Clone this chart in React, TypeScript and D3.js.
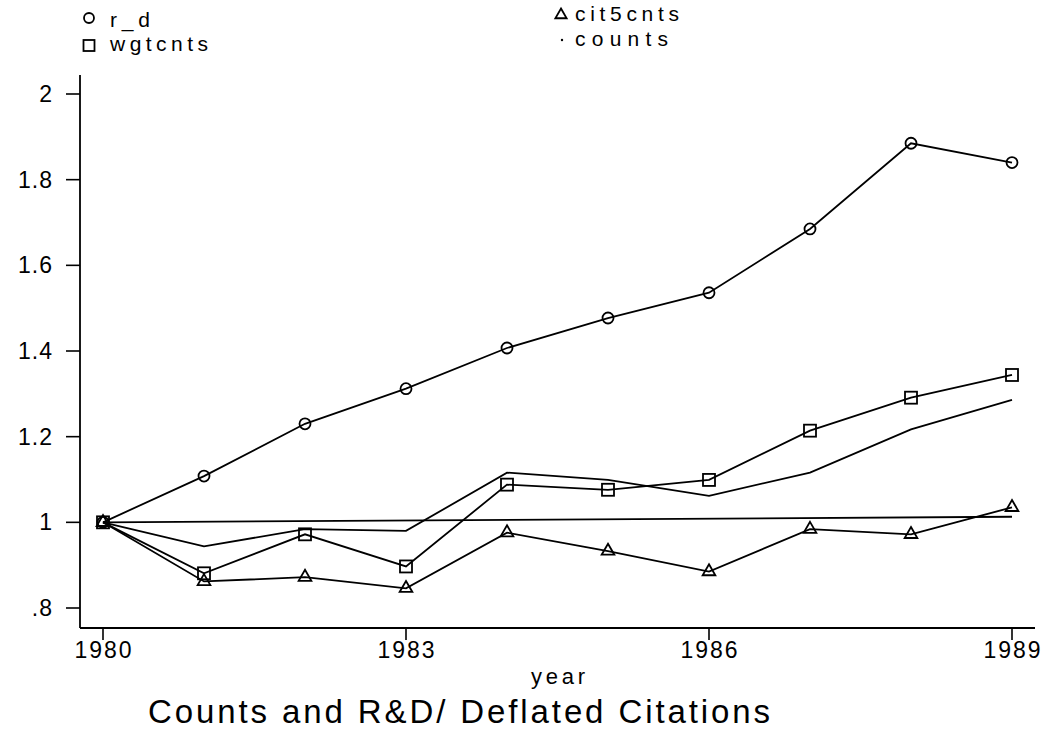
import React from "react";
import * as d3 from "d3";

// values
const years = [1980, 1981, 1982, 1983, 1984, 1985, 1986, 1987, 1988, 1989];
const rD = [1.0, 1.108, 1.23, 1.312, 1.407, 1.477, 1.536, 1.685, 1.885, 1.84];
const wgtcnts = [1.0, 0.881, 0.972, 0.897, 1.088, 1.076, 1.099, 1.214, 1.291, 1.344];
const cit5cnts = [1.0, 0.862, 0.872, 0.846, 0.976, 0.933, 0.885, 0.984, 0.972, 1.035];
const counts = [1.0, 0.944, 0.984, 0.98, 1.116, 1.099, 1.062, 1.116, 1.217, 1.286];
// near-flat line from 1980 to 1989
const flatYears = [1980, 1989];
const flatValues = [1.0, 1.013];

const yTicks = [0.8, 1, 1.2, 1.4, 1.6, 1.8, 2];
const yTickLabels = [".8", "1", "1.2", "1.4", "1.6", "1.8", "2"];
const xTicks = [1980, 1983, 1986, 1989];

const font = "'Liberation Sans', Arial, Helvetica, sans-serif";

export default function App() {
  const x = d3.scaleLinear().domain([1980, 1989]).range([103, 1012]);
  const y = d3.scaleLinear().domain([0.8, 2]).range([608, 94]);

  const line = d3
    .line<[number, number]>()
    .x((d) => x(d[0]))
    .y((d) => y(d[1]));

  const pts = (vals: number[], yrs: number[] = years) =>
    yrs.map((yr, i) => [yr, vals[i]] as [number, number]);

  const tri = d3.symbol().type(d3.symbolTriangle).size(70)();

  return (
    <svg
      width={1042}
      height={729}
      style={{ position: "absolute", left: 0, top: 0, background: "#fff" }}
      fontFamily={font}
    >
      {/* axes */}
      <line x1={80} y1={75} x2={80} y2={628} stroke="#000" strokeWidth={1.8} />
      <line x1={80} y1={628} x2={1035} y2={628} stroke="#000" strokeWidth={1.8} />
      {yTicks.map((t, i) => (
        <g key={t}>
          <line x1={66} x2={80} y1={y(t)} y2={y(t)} stroke="#000" strokeWidth={1.6} />
          <text x={53} y={y(t) + 8} fontSize={23} textAnchor="end" letterSpacing={1}>
            {yTickLabels[i]}
          </text>
        </g>
      ))}
      {xTicks.map((t) => (
        <g key={t}>
          <line x1={x(t)} x2={x(t)} y1={628} y2={640} stroke="#000" strokeWidth={1.6} />
          <text x={x(t)} y={658} fontSize={23} textAnchor="middle" textLength={57} lengthAdjust="spacing">
            {t}
          </text>
        </g>
      ))}
      <text x={558} y={684} fontSize={22} textAnchor="middle" textLength={54} lengthAdjust="spacing">
        year
      </text>
      <text x={148} y={723} fontSize={33} textLength={622} lengthAdjust="spacing">
        Counts and R&amp;D/ Deflated Citations
      </text>

      {/* lines */}
      <g fill="none" stroke="#000" strokeWidth={1.8}>
        <path d={line(pts(flatValues, flatYears)) || ""} />
        <path d={line(pts(counts)) || ""} />
        <path d={line(pts(cit5cnts)) || ""} />
        <path d={line(pts(wgtcnts)) || ""} />
        <path d={line(pts(rD)) || ""} />
      </g>

      {/* markers */}
      <g fill="none" stroke="#000" strokeWidth={1.8}>
        {rD.map((v, i) => (
          <circle key={"c" + i} cx={x(years[i])} cy={y(v)} r={5.5} />
        ))}
        {wgtcnts.map((v, i) => (
          <rect key={"s" + i} x={x(years[i]) - 6} y={y(v) - 6} width={12} height={12} />
        ))}
        {cit5cnts.map((v, i) => (
          <path key={"t" + i} d={tri || ""} transform={`translate(${x(years[i])},${y(v)})`} />
        ))}
      </g>

      {/* legend */}
      <g>
        <circle cx={89} cy={18} r={5} fill="none" stroke="#000" strokeWidth={1.8} />
        <text x={110} y={27} fontSize={21} textLength={40} lengthAdjust="spacing">
          r_d
        </text>
        <rect x={83.5} y={40} width={11} height={11} fill="none" stroke="#000" strokeWidth={1.8} />
        <text x={110} y={51} fontSize={21} textLength={98} lengthAdjust="spacing">
          wgtcnts
        </text>
        <path d={d3.symbol().type(d3.symbolTriangle).size(55)() || ""} transform="translate(561,15)" fill="none" stroke="#000" strokeWidth={1.8} />
        <text x={575} y={21} fontSize={21} textLength={104} lengthAdjust="spacing">
          cit5cnts
        </text>
        <circle cx={562} cy={40} r={1.2} fill="#000" />
        <text x={575} y={46} fontSize={21} textLength={93} lengthAdjust="spacing">
          counts
        </text>
      </g>
    </svg>
  );
}
